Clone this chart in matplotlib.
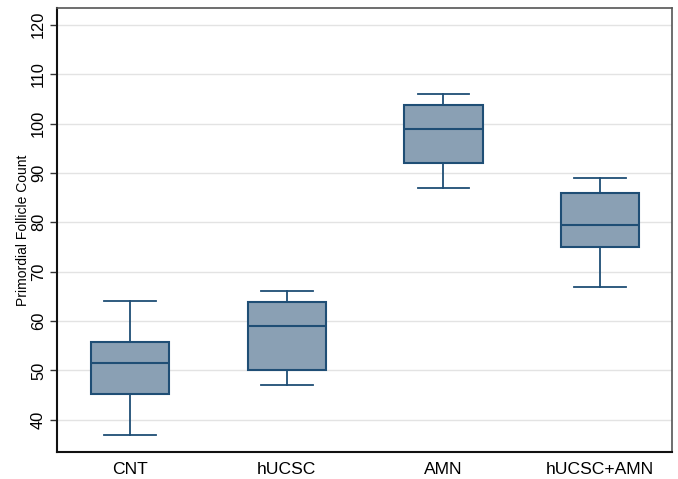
import matplotlib
matplotlib.use("Agg")
import matplotlib.pyplot as plt

plt.rcParams['font.family'] = ['Liberation Sans', 'DejaVu Sans']

groups = ["CNT", "hUCSC", "AMN", "hUCSC+AMN"]
whisker_low = [37, 47, 87, 67]
q1 = [45.2, 50.2, 92.1, 75.1]
median = [51.5, 59.0, 99.0, 79.5]
q3 = [55.8, 63.9, 103.8, 85.9]
whisker_high = [64, 66, 106, 89]
yticks = [40, 50, 60, 70, 80, 90, 100, 110, 120]

navy = "#1f4e75"
fill = "#8aa0b4"

stats = []
for i, g in enumerate(groups):
    stats.append({"label": g, "whislo": whisker_low[i], "q1": q1[i], "med": median[i],
                  "q3": q3[i], "whishi": whisker_high[i], "fliers": []})

fig = plt.figure(figsize=(6.78, 4.79), dpi=100)
ax = fig.add_axes([0.0841, 0.0564, 0.9071, 0.9269])

ax.set_axisbelow(True)
ax.yaxis.grid(True, color="#e3e3e3", linewidth=1.0)

ax.bxp(stats, positions=range(1, 5), widths=0.5, patch_artist=True, showfliers=False,
       boxprops=dict(facecolor=fill, edgecolor=navy, linewidth=1.5),
       medianprops=dict(color=navy, linewidth=1.5),
       whiskerprops=dict(color=navy, linewidth=1.3),
       capprops=dict(color=navy, linewidth=1.3),
       capwidths=0.33)

ax.set_xlim(0.534, 4.459)
ax.set_ylim(33.5, 123.4)
ax.set_yticks(yticks)
ax.set_yticklabels([str(t) for t in yticks], rotation=90, va="center", fontsize=11.8)
ax.tick_params(axis="y", direction="out", length=5, width=1, color="#333333", pad=3)
ax.tick_params(axis="x", length=0, pad=7, labelsize=12.6)
ax.set_ylabel("Primordial Follicle Count", fontsize=10, labelpad=1)

for side in ["left", "bottom"]:
    ax.spines[side].set_color("#111111")
    ax.spines[side].set_linewidth(1.5)
for side in ["top", "right"]:
    ax.spines[side].set_color("#555555")
    ax.spines[side].set_linewidth(1.2)

fig.savefig("out.png", dpi=100)
